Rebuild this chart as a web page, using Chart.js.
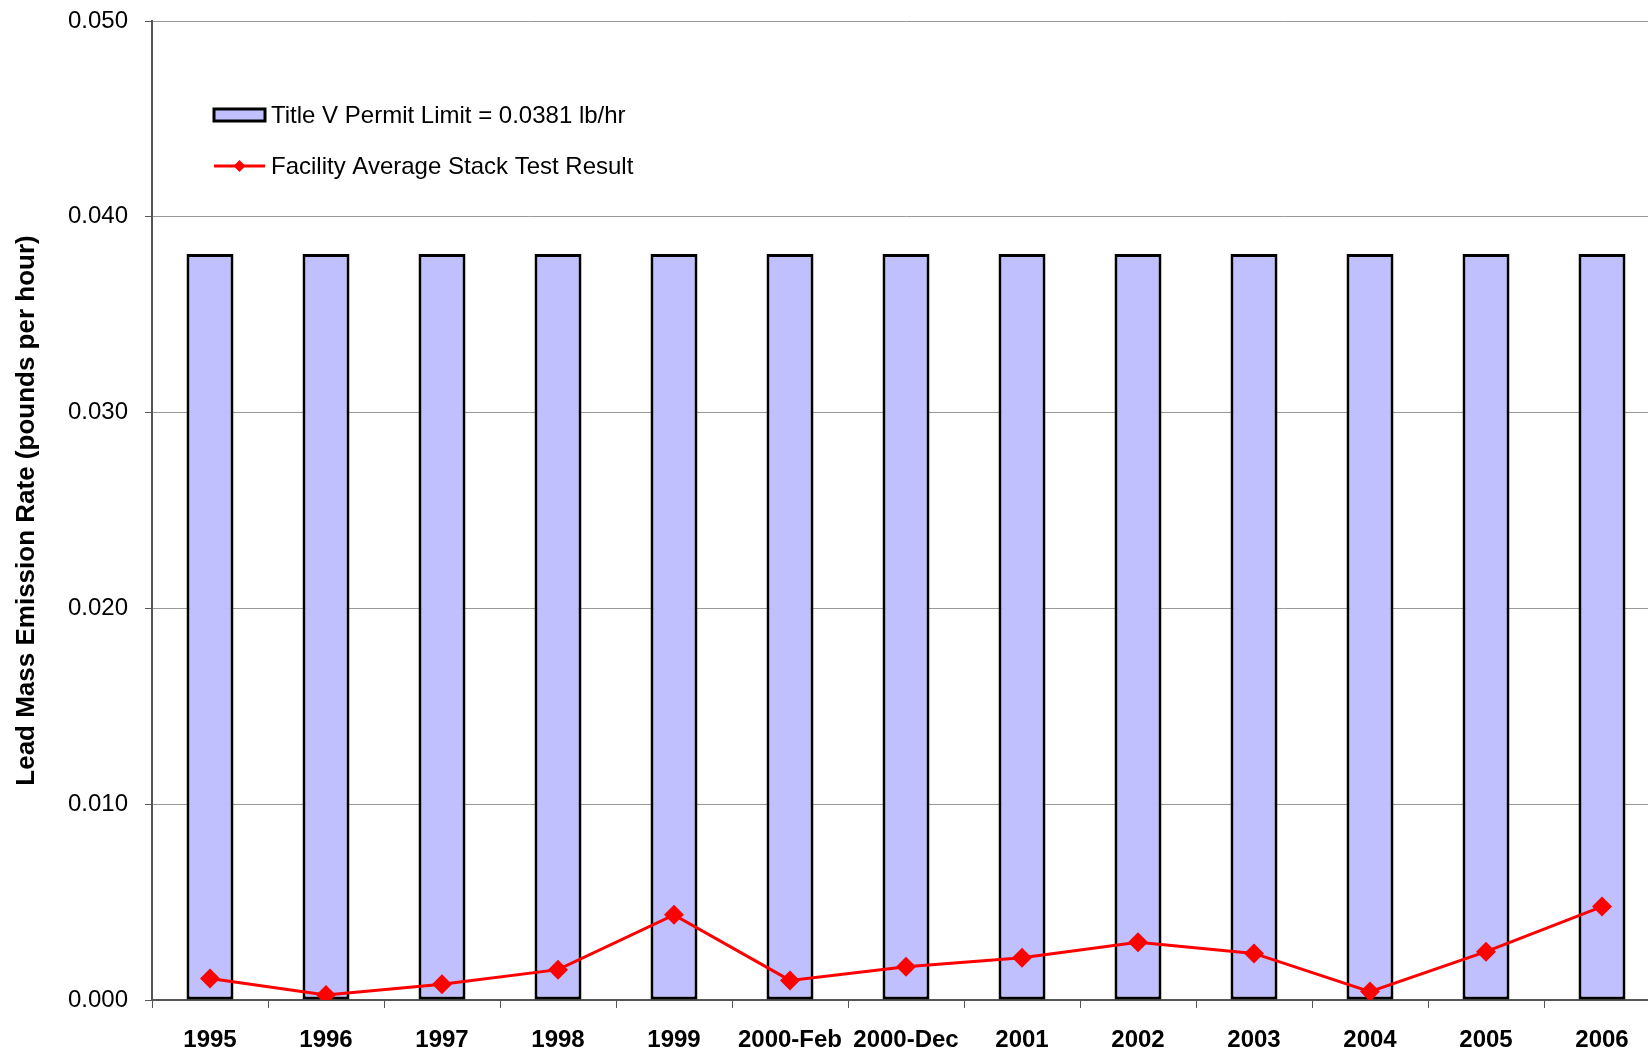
<!DOCTYPE html>
<html>
<head>
<meta charset="utf-8">
<title>Lead Mass Emission Rate</title>
<script src="https://cdn.jsdelivr.net/npm/chart.js@4.4.1/dist/chart.umd.min.js"></script>
<style>
  html, body { margin: 0; padding: 0; background: #fff; overflow: hidden; }
  #wrap { width: 1670px; height: 1052px; }
  #chart { display: block; width: 1670px; height: 1052px; }
</style>
</head>
<body>
<div id="wrap"><canvas id="chart" width="1670" height="1052"></canvas></div>
<script>
// Test events along the x axis
const categories = ['1995', '1996', '1997', '1998', '1999', '2000-Feb', '2000-Dec',
                    '2001', '2002', '2003', '2004', '2005', '2006'];

// Title V permit limit (lb/hr), the same for every test
const permitLimit = [0.0381, 0.0381, 0.0381, 0.0381, 0.0381, 0.0381, 0.0381,
                     0.0381, 0.0381, 0.0381, 0.0381, 0.0381, 0.0381];

// Facility average stack test result (lb/hr)
const stackTest = [0.0011, 0.00026, 0.0008, 0.00155, 0.00435, 0.001, 0.0017,
                   0.00216, 0.00295, 0.00238, 0.00043, 0.00247, 0.00477];

// Y axis tick values
const yTicks = [0, 0.01, 0.02, 0.03, 0.04, 0.05];

const seriesNames = ['Title V Permit Limit = 0.0381 lb/hr', 'Facility Average Stack Test Result'];
const barFill = '#C0C0FF';
const lineColor = '#FF0000';
const FONT = '"Liberation Sans", Arial, Helvetica, sans-serif';

// Legend drawn inside the plot area, top-left
const innerLegend = {
  id: 'innerLegend',
  afterDraw(chart) {
    const ctx = chart.ctx;
    const a = chart.chartArea;
    const x0 = a.left + 62, x1 = a.left + 113;
    const tx = a.left + 119;
    ctx.save();
    ctx.font = '24px ' + FONT;
    ctx.textBaseline = 'middle';
    ctx.textAlign = 'left';
    // bar entry
    const y1 = 115;
    ctx.fillStyle = barFill;
    ctx.fillRect(x0, y1 - 6, x1 - x0, 12);
    ctx.strokeStyle = '#000';
    ctx.lineWidth = 3;
    ctx.strokeRect(x0, y1 - 6, x1 - x0, 12);
    ctx.fillStyle = '#000';
    ctx.fillText(chart.data.datasets[0].label, tx, y1 + 1);
    // line entry
    const y2 = 166;
    ctx.strokeStyle = lineColor;
    ctx.lineWidth = 3;
    ctx.beginPath();
    ctx.moveTo(x0, y2);
    ctx.lineTo(x1, y2);
    ctx.stroke();
    const cx = (x0 + x1) / 2, r = 6;
    ctx.fillStyle = lineColor;
    ctx.beginPath();
    ctx.moveTo(cx, y2 - r);
    ctx.lineTo(cx + r, y2);
    ctx.lineTo(cx, y2 + r);
    ctx.lineTo(cx - r, y2);
    ctx.closePath();
    ctx.fill();
    ctx.fillStyle = '#000';
    ctx.fillText(chart.data.datasets[1].label, tx, y2 + 1);
    ctx.restore();
  }
};

new Chart(document.getElementById('chart'), {
  type: 'bar',
  data: {
    labels: categories,
    datasets: [
      {
        type: 'bar',
        label: seriesNames[0],
        data: permitLimit,
        backgroundColor: barFill,
        borderColor: '#000',
        borderWidth: 3,
        borderSkipped: false,
        barPercentage: 0.405,
        categoryPercentage: 1.0,
        order: 2
      },
      {
        type: 'line',
        label: seriesNames[1],
        data: stackTest,
        borderColor: lineColor,
        backgroundColor: lineColor,
        borderWidth: 3,
        pointStyle: 'rectRot',
        pointRadius: 10,
        pointBorderWidth: 0,
        pointBackgroundColor: lineColor,
        tension: 0,
        order: 1
      }
    ]
  },
  options: {
    responsive: false,
    animation: false,
    devicePixelRatio: 1,
    layout: { padding: { top: 21, left: 0, right: 0, bottom: 0 } },
    plugins: {
      legend: { display: false },
      tooltip: { enabled: false }
    },
    scales: {
      x: {
        offset: true,
        grid: {
          offset: true,
          drawOnChartArea: false,
          drawTicks: true,
          tickLength: 8,
          color: '#555',
          lineWidth: 1
        },
        border: { display: true, color: '#555', width: 2 },
        ticks: {
          color: '#000',
          font: { family: FONT, size: 24, weight: 'bold' },
          padding: 18,
          maxRotation: 0,
          autoSkip: false
        },
        afterFit(scale) {
          scale.height = 52;
          scale.paddingLeft = 0;
          scale.paddingRight = 0;
        }
      },
      y: {
        min: 0,
        max: 0.05,
        afterBuildTicks(scale) { scale.ticks = yTicks.map(v => ({ value: v })); },
        grid: {
          color: '#9a9a9a',
          lineWidth: 1,
          drawTicks: true,
          tickLength: 7,
          tickColor: '#555'
        },
        border: { display: true, color: '#555', width: 2 },
        ticks: {
          color: '#000',
          font: { family: FONT, size: 24 },
          padding: 17,
          callback: v => Number(v).toFixed(3)
        },
        title: {
          display: true,
          text: 'Lead Mass Emission Rate (pounds per hour)',
          color: '#000',
          font: { family: FONT, size: 26, weight: 'bold' },
          padding: { top: 11, bottom: 0 }
        },
        afterFit(scale) {
          scale.width = 152;
          scale.paddingTop = 0;
          scale.paddingBottom = 0;
        }
      }
    }
  },
  plugins: [innerLegend]
});
</script>
</body>
</html>
